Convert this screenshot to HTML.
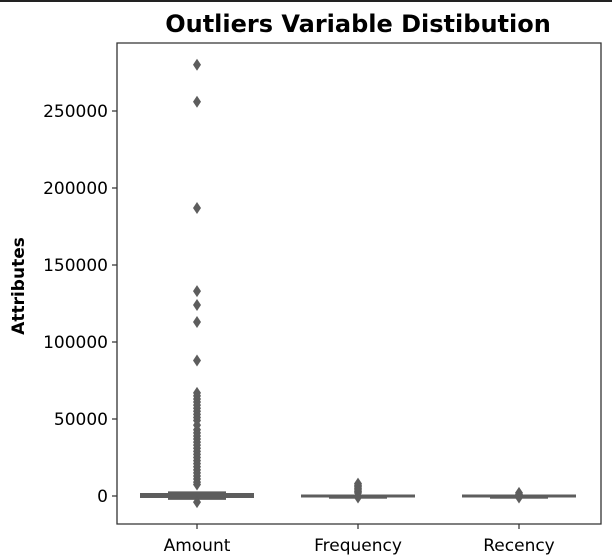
<!DOCTYPE html>
<html><head><meta charset="utf-8"><style>
html,body{margin:0;padding:0;background:#fff;}
svg{display:block;font-family:"DejaVu Sans","Liberation Sans",sans-serif;}
</style></head><body>
<svg id="chart" width="612" height="557" viewBox="0 0 612 557">
<rect x="0" y="0" width="612" height="2" fill="#222"/>
<text x="358" y="32" text-anchor="middle" font-size="24" font-weight="bold" fill="#000">Outliers Variable Distibution</text>
<text transform="translate(24,286) rotate(-90)" text-anchor="middle" font-size="17" font-weight="bold" fill="#000">Attributes</text>
<g id="marks"></g>
<g id="axes"></g>
</svg>
<script>
const categories = ["Amount","Frequency","Recency"];
const yTicks = [0,50000,100000,150000,200000,250000];
const q1 = [-2500, -200, -200];
const q3 = [3000, 200, 200];
const medians = [300, 0, 0];
const amountOutliers = [280000,256000,187000,133000,124000,113000,88000,67000,65000,63000,61000,59000,57000,55000,53000,51000,49000,46000,43000,41000,39000,37000,35000,33000,31000,29000,27000,25000,23000,21000,19000,17000,15000,13000,11000,9000,7500,-4000];
const freqOutliers = [8000,7000,6000,5000,4000,3000,2000,-1000];
const recOutliers = [2000,1000,-1000];
const outliers = [amountOutliers, freqOutliers, recOutliers];

const L=117,R=601,T=43,B=524;
function y(v){return 496 - v*0.00154;}
function x(i){return 197 + i*161;}
const ns="http://www.w3.org/2000/svg";
const marks=document.getElementById('marks');
const axes=document.getElementById('axes');
function mk(tag,attrs,parent){const e=document.createElementNS(ns,tag);for(const k in attrs)e.setAttribute(k,attrs[k]);parent.appendChild(e);return e;}
const col="#5d5d5d";
categories.forEach((c,i)=>{
  const cx=x(i);
  const ym=y(medians[i]);
  const w=mk('line',{x1:cx-57,x2:cx+57,y1:ym,y2:ym,stroke:col,'stroke-width':i===0?5:3},marks);
  
  
  const top=y(q3[i]),bot=y(q1[i]);
  const hb=Math.max(bot-top,3);
  const bx=mk('rect',{x:cx-29,y:top,width:58,height:hb,fill:col},marks);
  
  
  outliers[i].forEach(v=>{
    const yy=y(v);
    const p=mk('path',{d:`M${cx},${yy-6}L${cx+4},${yy}L${cx},${yy+6}L${cx-4},${yy}Z`,fill:col},marks);
    
    
  });
  const tk=mk('line',{x1:cx,x2:cx,y1:B,y2:B+5,stroke:'#000','stroke-width':1},axes);
  
  
  const t=mk('text',{x:cx,y:B+27,'text-anchor':'middle','font-size':17,fill:'#000'},axes);
  t.textContent=c;
  
  
});
yTicks.forEach(v=>{
  const yy=y(v);
  const tk=mk('line',{x1:L-5,x2:L,y1:yy,y2:yy,stroke:'#000','stroke-width':1},axes);
  
  
  const t=mk('text',{x:L-9,y:yy+6,'text-anchor':'end','font-size':17,fill:'#000'},axes);
  t.textContent=String(v);
  
  
});
const fr=mk('path',{d:`M${L},${T}V${B}H${R}V${T}Z`,fill:'none',stroke:'#333','stroke-width':1.3},axes);


</script>
</body></html>
